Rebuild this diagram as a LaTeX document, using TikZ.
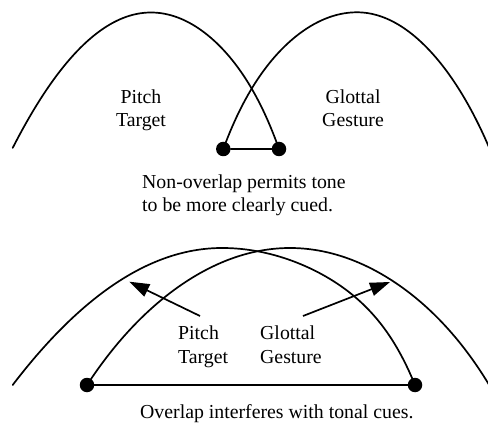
\documentclass[tikz,border=0pt]{standalone}
\usepackage{fontspec}
\setmainfont{Liberation Serif}
\usetikzlibrary{arrows.meta}
\begin{document}
\begin{tikzpicture}[x=1pt,y=-1pt,
  curve/.style={line width=1.7pt,line join=round,line cap=round},
  dotmark/.style={circle,fill=black,inner sep=0pt,minimum size=14.5pt},
  lbl/.style={font=\fontsize{19.8}{23.8}\selectfont,inner sep=0pt},
  arr/.style={line width=1.7pt,-{Triangle[length=20pt,width=13.5pt]}}]
\useasboundingbox (0,0) rectangle (488,425);
% ---------- top diagram ----------
\node[dotmark] (tl) at (223.3,149) {};
\node[dotmark] (tr) at (279,149) {};
% left arch (Pitch Target), peak (151,12.5)
\draw[curve] plot[domain=-138.3:128,samples=120]
  ({151+(\x)},{12.5+((\x)<0 ? 70.8*((\x)/100)^2 : 70*((\x)/100)^2+21.8*(abs(\x)/128)^6)});
% right arch (Glottal Gesture), peak (357,12.3)
\draw[curve] plot[domain=-133.7:133,samples=120]
  ({357+(\x)},{12.3+((\x)<0 ? 64*((\x)/100)^2+22.3*(abs(\x)/133.7)^6 : 72*((\x)/100)^2+9.1*(abs(\x)/131)^6)});
\draw[curve] (tl) -- (tr);
\node[lbl,align=center,anchor=base] (pt1) at (141,127) {Pitch\\Target};
\node[lbl,align=center,anchor=base] (gg1) at (353,127) {Glottal\\Gesture};
\node[lbl,align=left,anchor=base west] (cap1) at (142,212) {Non-overlap permits tone\\to be more clearly cued.};
% ---------- bottom diagram ----------
\node[dotmark] (bl) at (87,385) {};
\node[dotmark] (br) at (415,385) {};
% left arch, peak (222,248)
\draw[curve] plot[domain=-209.3:193,samples=140]
  ({222+(\x)},{248+((\x)<0 ? 31.27*((\x)/100)^2 : 26*((\x)/100)^2+40.2*(abs(\x)/193)^7)});
% right arch, peak (290,248)
\draw[curve] plot[domain=-203:202,samples=140]
  ({290+(\x)},{248+((\x)<0 ? 31*((\x)/100)^2+9.3*(abs(\x)/203)^6 : 31*((\x)/100)^2+13.5*(abs(\x)/198)^6)});
\draw[curve] (bl) -- (br);
\node[lbl,align=left,anchor=base west] (pt2) at (178,363) {Pitch\\Target};
\node[lbl,align=left,anchor=base west] (gg2) at (260,363) {Glottal\\Gesture};
\coordinate (a1tail) at (200,316);
\coordinate (a1tip) at (129.3,281.7);
\coordinate (a2tail) at (303,316);
\coordinate (a2tip) at (390,282);
\draw[arr] (a1tail) -- (a1tip);
\draw[arr] (a2tail) -- (a2tip);
\node[lbl,anchor=base west] (cap2) at (140,418) {Overlap interferes with tonal cues.};
\end{tikzpicture}
\end{document}
